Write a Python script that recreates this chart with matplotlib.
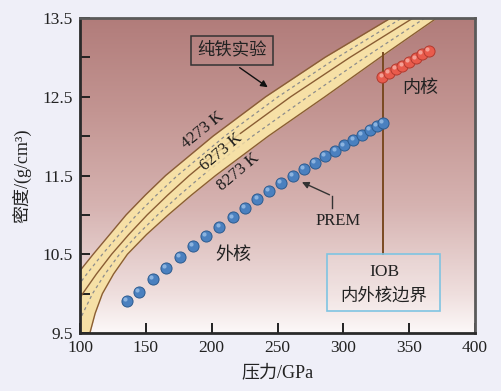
import numpy as np
import matplotlib
matplotlib.use("Agg")
import matplotlib.pyplot as plt
from matplotlib.colors import LinearSegmentedColormap
from matplotlib.patches import Rectangle
from matplotlib.transforms import offset_copy

plt.rcParams['font.family'] = ['Liberation Serif', 'Noto Sans CJK SC', 'DejaVu Sans']

# PREM outer core (blue) and inner core (red): pressure GPa, density g/cm3
prem_outer_p = [135.5, 144.8, 155.2, 165.5, 175.7, 186.0, 195.7, 205.8, 216.0, 225.2,
                234.7, 243.7, 252.7, 261.5, 270.1, 278.2, 286.1, 293.9, 300.7, 307.6,
                314.2, 320.3, 325.6, 330.3]
prem_outer_rho = [9.906, 10.024, 10.182, 10.329, 10.465, 10.601, 10.736, 10.852, 10.969, 11.085,
                  11.202, 11.307, 11.405, 11.494, 11.579, 11.663, 11.744, 11.815, 11.883, 11.955,
                  12.018, 12.074, 12.129, 12.167]
prem_inner_p = [329.6, 334.7, 339.8, 344.8, 349.9, 355.0, 359.7, 364.8]
prem_inner_rho = [12.755, 12.805, 12.849, 12.894, 12.941, 12.988, 13.039, 13.085]

# pure iron experiment curves: pressure at each density level
band_rho = [9.5, 9.75, 10.0, 10.25, 10.5, 10.75, 11.0, 11.25, 11.5, 12.0, 12.5, 13.0, 13.5]
p_4273 = [66, 76, 86, 98, 110, 122.5, 135, 149.5, 165, 201, 241, 286, 336]
p_6273 = [84, 93, 102, 112.5, 124, 137, 151, 166.5, 183, 219, 260, 305, 353]
p_8273 = [107.5, 111.5, 117, 125.5, 136, 150.5, 167, 184.5, 203, 243, 286, 328, 371]
p_dash_a = [75, 84.5, 94, 105.2, 117, 129.8, 143, 158, 174, 210, 250.5, 295.5, 344.5]
p_dash_b = [95.8, 102.2, 109.5, 119, 130, 143.8, 159, 175.5, 193, 231, 273, 316.5, 362]

iob_p = 330.3
xticks = [100, 150, 200, 250, 300, 350, 400]
yticks = [9.5, 10.0, 10.5, 11.0, 11.5, 12.0, 12.5, 13.0, 13.5]
ylabels = ['9.5', '', '10.5', '', '11.5', '', '12.5', '', '13.5']

fig = plt.figure(figsize=(5.01, 3.91), dpi=100, facecolor='#efeff8')
ax = fig.add_axes([0.1597, 0.1483, 0.7885, 0.8057])
ax.set_xlim(100, 400)
ax.set_ylim(9.5, 13.5)

# background gradient
cmap = LinearSegmentedColormap.from_list('bg', [(0, '#fcf8f8'), (0.12, '#efdfde'),
                                                (0.4, '#d6b3b1'), (0.7, '#c39592'), (1, '#b17c7a')])
grad = np.linspace(0, 1, 256).reshape(-1, 1)
ax.imshow(grad, extent=[100, 400, 9.5, 13.5], origin='lower', aspect='auto', cmap=cmap, zorder=0)

# band
band = '#f6e0a6'
edge = '#8a5d34'
ax.fill_betweenx(band_rho, p_4273, p_8273, color=band, zorder=1, lw=0)
ax.plot(p_4273, band_rho, color=edge, lw=1.0, zorder=2)
ax.plot(p_6273, band_rho, color=edge, lw=1.0, zorder=2)
ax.plot(p_8273, band_rho, color=edge, lw=1.0, zorder=2)
ax.plot(p_dash_a, band_rho, color='#8c8c8c', lw=0.9, ls=(0, (2.5, 2.5)), zorder=2)
ax.plot(p_dash_b, band_rho, color='#8c8c8c', lw=0.9, ls=(0, (2.5, 2.5)), zorder=2)

ax.text(193.4, 12.08, '4273 K', rotation=39, ha='center', va='center', fontsize=12, color='#1a1a1a', zorder=4)
ax.text(207.6, 11.80, '6273 K', rotation=40, ha='center', va='center', fontsize=12, color='#1a1a1a', zorder=4,
        bbox=dict(boxstyle='round,pad=0.05', fc=band, ec='none', alpha=0.8))
ax.text(220.0, 11.55, '8273 K', rotation=40, ha='center', va='center', fontsize=12, color='#1a1a1a', zorder=4)

# IOB line
ax.plot([iob_p, iob_p], [10.5, 13.06], color='#7a4a22', lw=1.4, zorder=3)

# PREM points with a small highlight
hl = offset_copy(ax.transData, fig=fig, x=-1.3, y=1.3, units='points')
ax.plot(prem_outer_p, prem_outer_rho, 'o', ms=8, mfc='#4a80bf', mec='#2c5b8f', mew=0.7, zorder=5)
ax.plot(prem_outer_p, prem_outer_rho, 'o', ms=3, mfc='#9cc0e8', mec='none', alpha=0.8, zorder=5, transform=hl)
ax.plot(prem_inner_p, prem_inner_rho, 'o', ms=8, mfc='#e95b4c', mec='#b33a2f', mew=0.7, zorder=5)
ax.plot(prem_inner_p, prem_inner_rho, 'o', ms=3, mfc='#f7b2a8', mec='none', alpha=0.8, zorder=5, transform=hl)

# labels
ax.text(215.4, 13.09, '纯铁实验', ha='center', va='center', fontsize=12.5, color='#222', zorder=6,
        bbox=dict(boxstyle='square,pad=0.35', fc='none', ec='#333', lw=1.1))
ax.annotate('', xy=(244.3, 12.60), xytext=(219.5, 12.89),
            arrowprops=dict(arrowstyle='-|>', color='#111', lw=1.0, mutation_scale=10), zorder=6)

ax.text(296, 10.92, 'PREM', ha='center', va='center', fontsize=12, color='#222', zorder=6)
ax.plot([291.4, 291.4], [11.09, 11.24], color='#333', lw=1.0, zorder=6)
ax.annotate('', xy=(266.6, 11.43), xytext=(291.4, 11.24),
            arrowprops=dict(arrowstyle='-|>', color='#333', lw=1.0, mutation_scale=10), zorder=6)

ax.text(216.4, 10.49, '外核', ha='center', va='center', fontsize=13, color='#222', zorder=6)
ax.text(358.2, 12.61, '内核', ha='center', va='center', fontsize=13, color='#222', zorder=6)

ax.add_patch(Rectangle((287.8, 9.778), 85.6, 0.722, fc=(1, 1, 1, 0.15), ec='#7fc4e2', lw=1.2, zorder=6))
ax.text(330.9, 10.28, 'IOB', ha='center', va='center', fontsize=12.5, color='#222', zorder=7)
ax.text(330.9, 9.97, '内外核边界', ha='center', va='center', fontsize=12.5, color='#222', zorder=7)

# axes styling
ax.set_xticks(xticks)
ax.set_yticks(yticks)
ax.set_yticklabels(ylabels)
ax.tick_params(direction='in', length=7, width=1.4, labelsize=12.5, colors='#222', pad=5)
for s in ['left', 'bottom']:
    ax.spines[s].set_linewidth(2.0)
    ax.spines[s].set_color('#2a2a2a')
for s in ['top', 'right']:
    ax.spines[s].set_linewidth(2.0)
    ax.spines[s].set_color('#5a5a5a')

ax.set_xlabel('压力/GPa', fontsize=13, color='#222', labelpad=6)
ax.set_ylabel('密度/(g/cm³)', fontsize=13, color='#222', labelpad=8)

fig.savefig('out.png', dpi=100, facecolor=fig.get_facecolor())
